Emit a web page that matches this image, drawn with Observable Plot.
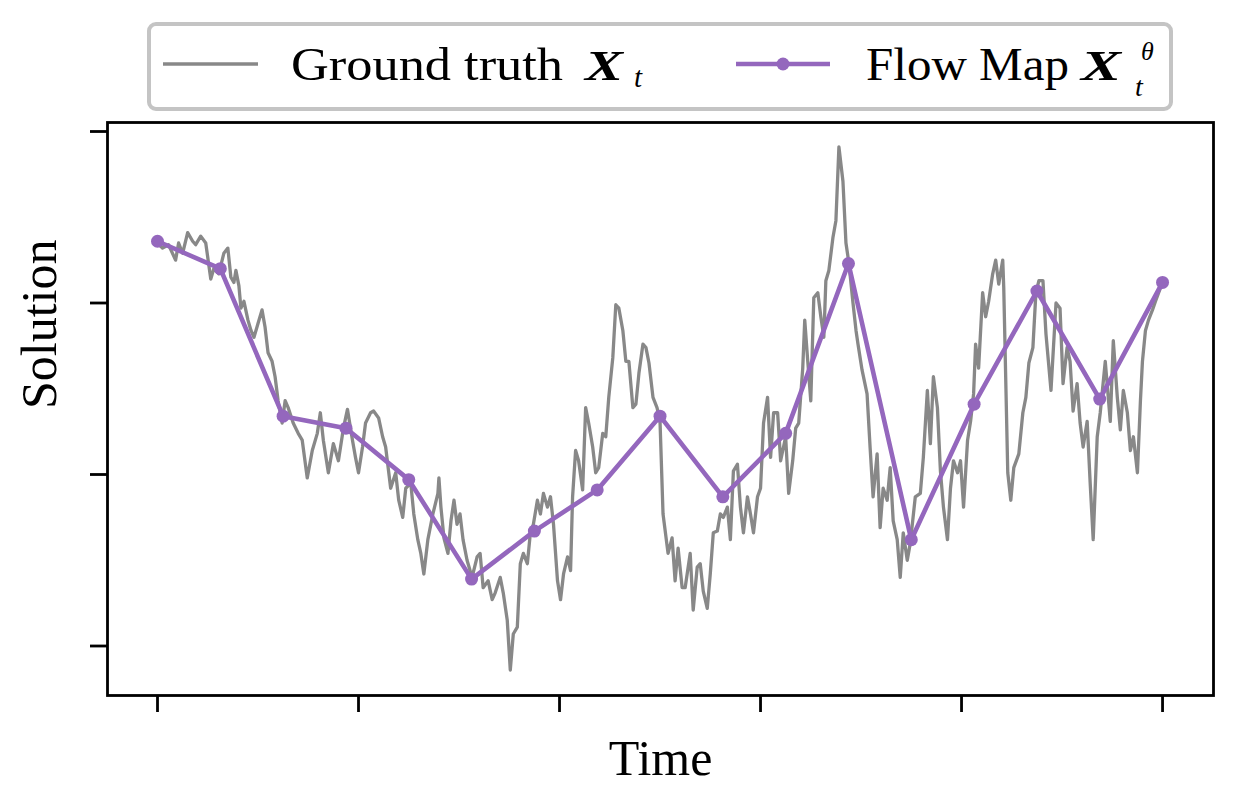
<!DOCTYPE html>
<html><head><meta charset="utf-8">
<script src="https://cdn.jsdelivr.net/npm/d3@7"></script>
<script src="https://cdn.jsdelivr.net/npm/@observablehq/plot@0.6"></script>
<style>
html,body{margin:0;padding:0;background:#fff;overflow:hidden;}
#chart svg{display:block;}
</style></head><body>
<div id="chart"></div>
<script>
// ---- data ----
const xTicks = [0, 0.2, 0.4, 0.6, 0.8, 1.0];
const yTicks = [-1, 0, 1, 2];
const seriesLabels = ["Ground truth", "Flow Map"];

// Flow map (17 evaluation points)
const flowTime = [0, 0.0625, 0.125, 0.1875, 0.25, 0.3125, 0.375, 0.4375, 0.5, 0.5625, 0.625, 0.6875, 0.75, 0.8125, 0.875, 0.9375, 1.0];
const flowValue = [1.36, 1.20, 0.34, 0.27, -0.03, -0.61, -0.33, -0.09, 0.34, -0.13, 0.24, 1.23, -0.38, 0.41, 1.07, 0.44, 1.12];

// Ground truth path (time in thousandths)
const gtStep = [
0,5,11,18,21,25,30,35,38,43,48,53,56,61,66,70,73,76,78,81,83,86,90,93,96,100,104,107,110,114,117,120,124,127,130,135,140,144,149,154,159,162,165,170,
175,180,185,189,194,197,200,204,207,212,215,220,224,227,232,237,240,244,247,252,255,259,262,265,269,274,279,280,282,285,289,292,295,298,301,304,308,313,318,321,324,329,333,336,341,344,348,351,354,
358,361,364,368,371,374,378,381,384,388,391,394,398,401,404,408,411,413,416,419,423,426,429,433,436,439,443,446,449,453,456,459,463,466,469,473,476,479,483,486,489,493,497,500,503,508,512,515,518,522,
525,530,533,537,540,543,547,550,553,557,560,563,567,570,573,577,580,583,587,590,593,597,600,603,607,610,613,617,620,625,628,632,635,638,642,644,647,650,653,657,660,663,665,668,672,675,678,682,685,688,692,695,697,701,706,
709,712,716,719,722,726,729,732,736,739,742,746,749,754,759,762,766,769,772,776,779,782,786,789,792,796,799,802,806,809,812,814,817,821,824,827,831,834,837,841,842,846,849,852,857,861,864,867,871,874,877,
881,884,889,894,898,901,905,908,911,915,918,921,925,928,931,935,938,943,948,951,955,958,961,965,968,971,975,978,980,983,986,990,993,998,1000
];
const gtValue = [
1.35,1.32,1.34,1.25,1.35,1.29,1.41,1.36,1.34,1.39,1.35,1.14,1.20,1.17,1.29,1.32,1.15,1.12,1.19,1.10,0.97,1.01,0.90,0.84,0.80,0.88,0.96,0.86,0.71,0.66,0.57,0.43,0.30,0.43,0.39,0.30,0.24,0.20,-0.02,0.14,0.24,0.36,0.20,0.01,
0.18,0.08,0.27,0.38,0.20,0.10,0.01,0.16,0.30,0.36,0.37,0.33,0.22,0.16,-0.08,0.01,-0.15,-0.25,-0.08,-0.05,-0.23,-0.38,-0.46,-0.58,-0.38,-0.23,-0.11,-0.02,-0.19,-0.37,-0.46,-0.27,-0.15,-0.29,-0.23,-0.38,-0.50,-0.60,-0.48,-0.46,-0.66,-0.62,-0.73,-0.69,-0.60,-0.69,-0.85,-1.14,-0.93,
-0.89,-0.52,-0.46,-0.52,-0.34,-0.29,-0.15,-0.23,-0.11,-0.19,-0.13,-0.29,-0.62,-0.73,-0.58,-0.48,-0.56,-0.13,0.14,0.08,-0.09,0.39,0.30,0.16,0.01,0.04,0.24,0.22,0.45,0.68,0.99,0.97,0.84,0.66,0.66,0.39,0.41,0.59,0.76,0.74,0.65,0.45,0.39,0.31,-0.23,-0.46,-0.37,-0.62,-0.43,-0.66,
-0.66,-0.46,-0.79,-0.54,-0.52,-0.68,-0.78,-0.58,-0.34,-0.33,-0.23,-0.25,-0.19,-0.38,0.02,0.06,-0.19,-0.34,-0.13,-0.23,-0.34,-0.13,-0.08,0.30,0.45,0.10,0.36,0.36,0.08,0.22,-0.11,0.08,0.27,0.30,0.62,0.90,0.66,0.43,1.03,1.06,0.92,0.80,1.13,1.19,1.38,1.48,1.91,1.71,1.35,1.23,1.00,0.84,0.76,0.61,0.47,
0.16,-0.13,0.12,-0.31,-0.08,-0.15,0.04,-0.27,-0.38,-0.60,-0.34,-0.50,-0.40,-0.13,-0.11,0.10,0.49,0.18,0.57,0.39,0.02,-0.19,-0.38,-0.08,0.08,0.01,0.08,-0.19,0.20,0.31,0.47,0.76,0.62,1.06,0.92,1.01,1.17,1.25,1.11,1.25,1.09,0.01,-0.15,0.04,0.12,0.36,0.45,0.65,0.74,1.06,1.13,
1.13,0.82,0.49,1.00,0.97,0.53,0.74,0.66,0.37,0.53,0.30,0.16,0.31,-0.05,-0.38,0.22,0.36,0.66,0.31,0.78,0.45,0.26,0.49,0.36,0.14,0.22,0.01,0.43,0.66,0.84,0.90,0.96,1.01,1.09,1.11
];

const GREY = "#888888";
const PURPLE = "#9467bd";
const FONT = '"Liberation Serif","DejaVu Serif",serif';

const truth = gtStep.map((s, i) => ({time: s / 1000, value: gtValue[i]}));
const flow = flowTime.map((t, i) => ({time: t, value: flowValue[i]}));

// ---- legend (above the plot) ----
const legend = d3.create("svg").attr("width", 1235).attr("height", 115).style("display", "block")
  .style("font-family", FONT);
legend.append("rect").attr("x", 149).attr("y", 24).attr("width", 1022).attr("height", 85)
  .attr("rx", 7).attr("fill", "#fff").attr("stroke", "#c4c4c4").attr("stroke-width", 4);
legend.append("line").attr("x1", 163).attr("x2", 258).attr("y1", 64).attr("y2", 64)
  .attr("stroke", GREY).attr("stroke-width", 3.3);
legend.append("text").attr("x", 291).attr("y", 80).attr("font-size", 46)
  .attr("textLength", 272).attr("lengthAdjust", "spacingAndGlyphs").text(seriesLabels[0]);
legend.append("text").attr("x", 585).attr("y", 80).attr("font-size", 43)
  .attr("font-weight", "bold").attr("font-style", "italic")
  .attr("textLength", 38).attr("lengthAdjust", "spacingAndGlyphs").text("X");
legend.append("text").attr("x", 634).attr("y", 87).attr("font-size", 29)
  .attr("font-style", "italic").text("t");
legend.append("line").attr("x1", 736).attr("x2", 830).attr("y1", 64).attr("y2", 64)
  .attr("stroke", PURPLE).attr("stroke-width", 4.6);
legend.append("circle").attr("cx", 783).attr("cy", 64).attr("r", 6.5).attr("fill", PURPLE);
legend.append("text").attr("x", 866).attr("y", 80).attr("font-size", 46)
  .attr("textLength", 203).attr("lengthAdjust", "spacingAndGlyphs").text(seriesLabels[1]);
legend.append("text").attr("x", 1081).attr("y", 80).attr("font-size", 43)
  .attr("font-weight", "bold").attr("font-style", "italic")
  .attr("textLength", 40).attr("lengthAdjust", "spacingAndGlyphs").text("X");
legend.append("text").attr("x", 1141).attr("y", 60).attr("font-size", 26)
  .attr("font-style", "italic").text("θ");
legend.append("text").attr("x", 1135).attr("y", 96).attr("font-size", 28)
  .attr("font-style", "italic").text("t");

// ---- plot ----
const plot = Plot.plot({
  width: 1235,
  height: 679,
  marginLeft: 107,
  marginRight: 22,
  marginTop: 7,
  marginBottom: 99,
  style: {fontFamily: FONT, background: "#fff", color: "#000"},
  x: {domain: [-0.04975, 1.0507]},
  y: {domain: [-1.2886, 2.0525]},
  marks: [
    Plot.lineY(truth, {x: "time", y: "value", stroke: GREY, strokeWidth: 3.3}),
    Plot.lineY(flow, {x: "time", y: "value", stroke: PURPLE, strokeWidth: 4.6}),
    Plot.dot(flow, {x: "time", y: "value", fill: PURPLE, r: 6.5}),
    Plot.frame({stroke: "#000", strokeWidth: 2.8}),
    Plot.axisX({ticks: xTicks, tickSize: 17, tickFormat: () => "", strokeWidth: 2.8, label: null}),
    Plot.axisY({ticks: yTicks, tickSize: 17, tickFormat: () => "", strokeWidth: 2.8, label: null}),
    Plot.text(["Time"], {text: d => d, frameAnchor: "bottom", dy: 63, fontSize: 50, lineAnchor: "middle"}),
    Plot.text(["Solution"], {text: d => d, frameAnchor: "left", dx: -68, rotate: -90, fontSize: 50, lineAnchor: "middle"})
  ]
});

const chart = document.getElementById("chart");
chart.appendChild(legend.node());
chart.appendChild(plot);
</script>
</body></html>
